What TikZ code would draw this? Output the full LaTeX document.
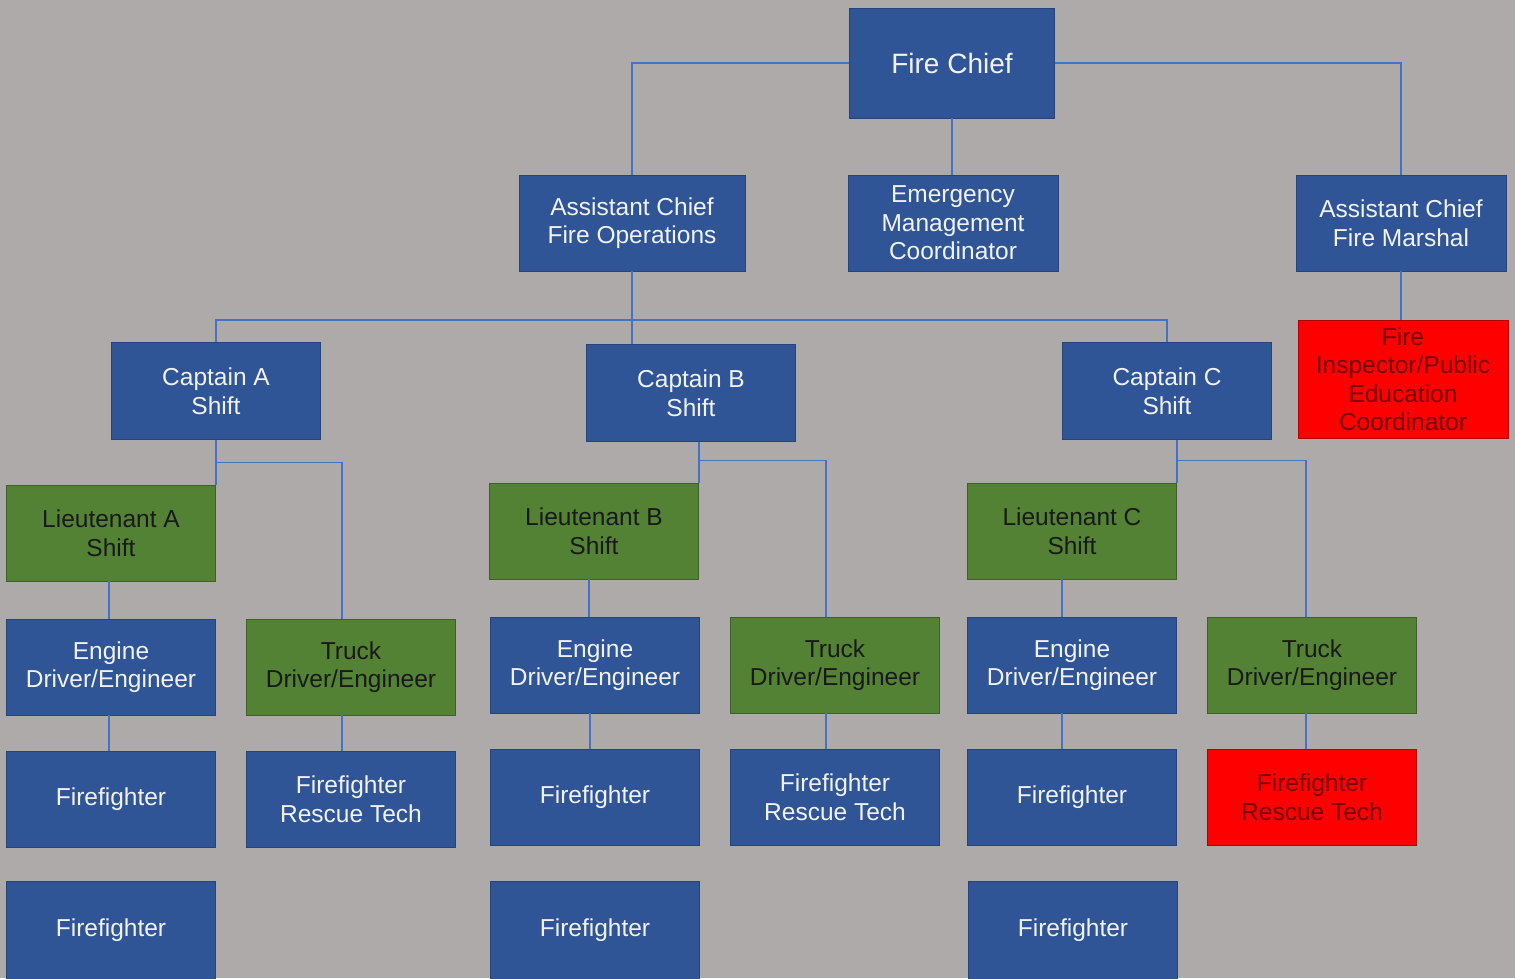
\documentclass[tikz,border=0pt]{standalone}
\usepackage{fontspec}
\setmainfont{Liberation Sans}
\definecolor{bg}{HTML}{ADAAA9}
\definecolor{boxblue}{HTML}{2F5597}
\definecolor{boxgreen}{HTML}{548235}
\definecolor{boxred}{HTML}{FF0000}
\definecolor{link}{HTML}{4472C4}

\begin{document}
\begin{tikzpicture}[x=1pt,y=-1pt,
		box/.style={rectangle,minimum width=209pt,minimum height=96pt,inner sep=0pt,align=center,line width=0.8pt,font=\fontsize{24.5}{28.5}\selectfont},
		bluebox/.style={box,fill=boxblue,draw=boxblue!80!black,text=white!95!black},
		greenbox/.style={box,fill=boxgreen,draw=boxgreen!75!black,text=black!90},
		redbox/.style={box,fill=boxred,draw=boxred!70!black,text=red!45!black},
		conn/.style={draw=link,line width=1.6pt}]
		\useasboundingbox (0,0) rectangle (1515,978);
		\fill[bg] (0,0) rectangle (1515,978);
		\clip (0,0) rectangle (1515,978);
		% top levels
		\node[bluebox,minimum width=205pt,minimum height=110pt,font=\fontsize{28}{32}\selectfont] (chief) at (952,63) {Fire Chief};
		\node[bluebox,minimum width=226pt] (ops) at (632,223) {Assistant Chief\\Fire Operations};
		\node[bluebox,minimum width=210pt] (emc) at (953,223) {Emergency\\Management\\Coordinator};
		\node[bluebox,minimum width=210pt] (marshal) at (1401,223) {Assistant Chief\\Fire Marshal};
		\node[redbox,minimum width=210pt,minimum height=118pt] (insp) at (1403,379) {Fire\\Inspector/Public\\Education\\Coordinator};
		% captains
		\node[bluebox,minimum height=97pt] (capA) at (216,391) {Captain A\\Shift};
		\node[bluebox,minimum height=97pt] (capB) at (691,393) {Captain B\\Shift};
		\node[bluebox,minimum height=97pt] (capC) at (1167,391) {Captain C\\Shift};
		% lieutenants
		\node[greenbox] (ltA) at (111,533) {Lieutenant A\\Shift};
		\node[greenbox] (ltB) at (594,531) {Lieutenant B\\Shift};
		\node[greenbox] (ltC) at (1072,531) {Lieutenant C\\Shift};
		% drivers
		\node[bluebox] (engA) at (111,667) {Engine\\Driver/Engineer};
		\node[greenbox] (truckA) at (351,667) {Truck\\Driver/Engineer};
		\node[bluebox] (engB) at (595,665) {Engine\\Driver/Engineer};
		\node[greenbox] (truckB) at (835,665) {Truck\\Driver/Engineer};
		\node[bluebox] (engC) at (1072,665) {Engine\\Driver/Engineer};
		\node[greenbox] (truckC) at (1312,665) {Truck\\Driver/Engineer};
		% firefighters
		\node[bluebox] (ffA) at (111,799) {Firefighter};
		\node[bluebox] (resA) at (351,799) {Firefighter\\Rescue Tech};
		\node[bluebox] (ffB) at (595,797) {Firefighter};
		\node[bluebox] (resB) at (835,797) {Firefighter\\Rescue Tech};
		\node[bluebox] (ffC) at (1072,797) {Firefighter};
		\node[redbox] (resC) at (1312,797) {Firefighter\\Rescue Tech};
		\node[bluebox,minimum height=98pt] (ffA2) at (111,930) {Firefighter};
		\node[bluebox,minimum height=98pt] (ffB2) at (595,930) {Firefighter};
		\node[bluebox,minimum height=98pt] (ffC2) at (1073,930) {Firefighter};
		% connectors
		\draw[conn] (chief.west) -| (ops.north);
		\draw[conn] (chief.east) -| (marshal.north);
		\draw[conn] (chief.south) -- (chief.south |- emc.north);
		\draw[conn] (marshal.south) -- (marshal.south |- insp.north);
		\draw[conn] (ops.south) -- (ops.south |- capB.north);
		\coordinate (bus) at (632,320);
		\draw[conn] (capA.north) |- (bus) -| (capC.north);
		% shifts: offsets of the engine and truck lines
		\foreach \s/\dl/\dt in {A/-2/-9,B/-5/-9,C/-10/-6} {
			\draw[conn] (lt\s.north east) -- (lt\s.north east |- cap\s.south);
			\draw[conn] (lt\s.north east) ++(0,-22) -| ([xshift=\dt pt]truck\s.north);
			\draw[conn] ([xshift=\dl pt]lt\s.south) -- ([xshift=\dl pt]lt\s.south |- eng\s.north);
			\draw[conn] ([xshift=\dl pt]eng\s.south) -- ([xshift=\dl pt]eng\s.south |- ff\s.north);
			\draw[conn] ([xshift=\dt pt]truck\s.south) -- ([xshift=\dt pt]truck\s.south |- res\s.north);
		}
		\end{tikzpicture}
\end{document}
